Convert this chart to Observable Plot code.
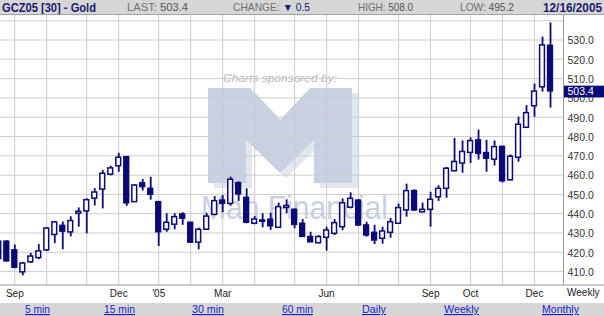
<!DOCTYPE html>
<html><head><meta charset="utf-8">
<script src="https://cdn.jsdelivr.net/npm/d3@7"></script>
<script src="https://cdn.jsdelivr.net/npm/@observablehq/plot@0.6"></script>
<style>
html,body{margin:0;padding:0;background:#fff;}
body{width:604px;height:316px;overflow:hidden;position:relative;font-family:"Liberation Sans",Arial,sans-serif;}
#header{position:absolute;left:0;top:0;width:604px;height:14px;background:#d6d6d6;border-bottom:1px solid #a4a4a4;}
#wm{position:absolute;left:0;top:0;z-index:0;}
#chart{position:absolute;left:0;top:15px;width:604px;height:287px;z-index:1;}
#footer{position:absolute;left:0;top:303px;width:604px;height:13px;background:#d6d6d6;}
#xextra{position:absolute;left:567px;top:287px;font-size:10px;color:#222;z-index:2;}
</style></head>
<body>
<svg id="header" width="604" height="14"></svg>
<svg id="wm" width="604" height="302"></svg>
<div id="chart"></div>
<div id="xextra">Weekly</div>
<svg id="footer" width="604" height="13"></svg>
<script>
// ---- data ----
const dates = ["2004-08-20","2004-08-27","2004-09-03","2004-09-10","2004-09-17","2004-09-24","2004-10-01","2004-10-08","2004-10-15","2004-10-22","2004-10-29","2004-11-05","2004-11-12","2004-11-19","2004-11-26","2004-12-03","2004-12-10","2004-12-17","2004-12-24","2004-12-31","2005-01-07","2005-01-14","2005-01-21","2005-01-28","2005-02-04","2005-02-11","2005-02-18","2005-02-25","2005-03-04","2005-03-11","2005-03-18","2005-03-25","2005-04-01","2005-04-08","2005-04-15","2005-04-22","2005-04-29","2005-05-06","2005-05-13","2005-05-20","2005-05-27","2005-06-03","2005-06-10","2005-06-17","2005-06-24","2005-07-01","2005-07-08","2005-07-15","2005-07-22","2005-07-29","2005-08-05","2005-08-12","2005-08-19","2005-08-26","2005-09-02","2005-09-09","2005-09-16","2005-09-23","2005-09-30","2005-10-07","2005-10-14","2005-10-21","2005-10-28","2005-11-04","2005-11-11","2005-11-18","2005-11-25","2005-12-02","2005-12-09","2005-12-16"];
const open  = [416.5,425.5,421,409.6,414.8,417,421,429,433.7,430.3,440,441.2,447.8,452.5,460.2,464.6,469.3,446,455.8,452.9,446,431.7,434.3,439.6,435.3,425,431.7,439.4,446.8,445.1,455.8,448.2,434.8,435.8,436.9,432.7,443,442,434.8,427.9,424.7,427.5,429.6,433,443.1,446.8,433.9,430.1,427,430.1,434.8,441.7,451.7,440.7,442,448.5,452.9,462,466,471.5,478,471.4,468,474.6,457.3,469,484.5,495.7,505.5,527];
const high  = [426.5,426,423.8,414.8,419.5,424,432.8,436,435.7,438.4,443,447.7,453,462.4,464.6,471.3,469.5,455,457.8,458.9,446.3,440,440,440.5,435.5,432.5,440.2,448.9,449.4,458.9,456.5,452.9,438.5,440,440.3,445.5,447.2,442.5,437,430.4,428.7,433,437,447.7,450.8,447.3,435.6,434,433,437.5,445,455.3,452.4,445.5,451.1,454.5,464,479,477.7,479.3,483.3,478,477.7,475,470.5,490,496,507.2,531.5,538.8];
const low   = [415,415,411.5,407.8,414.3,416.2,420.5,424.5,421.3,428,433,429.6,444,442.5,459.6,461.5,443.8,445.8,451.8,447,423,430.4,431.7,434,424.8,421.3,431.5,439,440.5,443.9,446.3,434.8,434.3,432.7,431.3,432.5,440,432.2,427.7,425,424.5,420.6,428.7,431.3,442.5,433.5,427.9,424,424.2,427.3,434.5,438.2,441.3,440.5,433,446.3,448,461.8,461,466,467.8,461.5,464.7,456,457,466.7,484.3,490,503,494.7];
const close = [425.5,415.3,412,414.2,417.8,420.5,432.3,435.5,430.7,436.2,441,447,451,460.7,463.5,469,445.4,454.6,453.8,449.8,430.4,435.3,438.2,437.4,425,431.7,438.5,446.5,445.1,457.6,450,435.3,437,436.5,433.5,443.4,444,434.2,428,425.2,427.9,431.3,435.1,445.4,447.7,433.9,428.7,426.1,430.8,435.6,442.9,451.7,441.7,442,447.2,452.9,463.3,466.8,472,477.6,471,468.5,474.5,456.8,469.5,486.1,492.1,503.3,527.2,503.4];
const gridDates = ["2004-09-03","2004-10-01","2004-11-05","2004-12-03","2005-01-07","2005-02-04","2005-03-04","2005-04-01","2005-05-06","2005-06-03","2005-07-01","2005-08-05","2005-09-02","2005-10-07","2005-11-04","2005-12-02"];
const tickDates = ["2004-09-03","2004-12-03","2005-01-07","2005-03-04","2005-06-03","2005-09-02","2005-10-07","2005-12-02"];
const tickLabels = ["Sep","Dec","'05","Mar","Jun","Sep","Oct","Dec"];
const yTicks = [410,420,430,440,450,460,470,480,490,500,510,520,530];
const yGrid = [410,420,430,440,450,460,470,480,490,500,510,520,530,540];
const lastPrice = 503.4;
const headerTitle = "GCZ05 [30] - Gold";
const headerDate = "12/16/2005";
const footerLinks = ["5 min","15 min","30 min","60 min","Daily","Weekly","Monthly"];

// ---- build ----
const navy = "#0a0a78";
const DAY = 864e5;
const data = dates.map((d,i)=>({date:new Date(d), open:open[i], high:high[i], low:low[i], close:close[i]}));
const half = 2.4*7/8*DAY;
const xDomain = [new Date(Date.UTC(2004,8,3) - 12.51*DAY), new Date(Date.UTC(2005,11,16) + 11.375*DAY)];
const yDomain = [402.8, 542.7];
const labelMap = new Map(tickDates.map((d,i)=>[+new Date(d), tickLabels[i]]));

const chart = Plot.plot({
  width:604, height:287, marginLeft:0, marginRight:41, marginTop:0, marginBottom:17,
  style:{background:"transparent", fontFamily:"'Liberation Sans',Arial,sans-serif", color:"#222", overflow:"visible"},
  x:{type:"utc", domain:xDomain, axis:null},
  y:{domain:yDomain, axis:null},
  marks:[
    Plot.gridX(gridDates.map(d=>new Date(d)), {stroke:"#cccccc", strokeOpacity:1}),
    Plot.gridY(yGrid, {stroke:"#cccccc", strokeOpacity:1}),
    Plot.ruleX([xDomain[1]], {stroke:"#9a9a9a"}),
    Plot.ruleX(data, {x:"date", y1:"low", y2:"high", stroke:navy, strokeWidth:1.8}),
    Plot.rect(data, {x1:d=>new Date(+d.date-half), x2:d=>new Date(+d.date+half), y1:"open", y2:"close",
      fill:d=>d.close>=d.open?"white":navy, stroke:navy, strokeWidth:1.5}),
    Plot.axisX(tickDates.map(d=>new Date(d)), {tickFormat:d=>labelMap.get(+d), tickSize:0, tickPadding:4, fontSize:10, fill:"#222"}),
    Plot.axisY(yTicks, {anchor:"right", tickSize:0, tickPadding:4, tickFormat:d=>d.toFixed(1), fontSize:10.5, fill:"#333", dy:1})
  ]
});
document.getElementById("chart").append(chart);

const ys = chart.scale("y");
const svg = d3.select(chart);
const yb = ys.apply(yDomain[0]);
svg.append("line").attr("x1",0).attr("x2",604).attr("y1",yb).attr("y2",yb).attr("stroke","#9a9a9a");
const yl = ys.apply(lastPrice);
svg.append("rect").attr("x",564).attr("y",yl-5.2).attr("width",40).attr("height",11.8).attr("fill",navy);
svg.append("text").attr("x",567.5).attr("y",yl+0.6).attr("dy","0.35em").attr("fill","#fff").attr("text-anchor","start")
  .attr("font-size",10.5).attr("font-family","'Liberation Sans',Arial,sans-serif").text(lastPrice.toFixed(1));

// header
const hd = d3.select("#header").attr("font-family","'Liberation Sans',Arial,sans-serif");
hd.append("text").attr("x",2).attr("y",11.5).attr("font-size",12).attr("font-weight","bold").attr("fill","#1b1b6e")
  .attr("textLength",94).attr("lengthAdjust","spacingAndGlyphs").text(headerTitle);
function hItem(x, label, value, len, arrow){
  const t = hd.append("text").attr("x",x).attr("y",11).attr("font-size",10.5).attr("fill","#707070")
    .attr("textLength",len).attr("lengthAdjust","spacingAndGlyphs");
  t.append("tspan").text(label+" ");
  if(arrow){ t.append("tspan").attr("fill","#1b1b6e").text(arrow+" "); t.append("tspan").attr("fill","#1b1b6e").text(value); }
  else t.append("tspan").attr("fill","#555").text(value);
}
hItem(127,"LAST:","503.4",61);
hItem(233,"CHANGE:","0.5",77,"\u25BC");
hItem(358,"HIGH:","508.0",55);
hItem(460,"LOW:","495.2",54);
hd.append("text").attr("x",543).attr("y",11.5).attr("font-size",12).attr("font-weight","bold").attr("fill","#1b1b6e")
  .attr("textLength",59).attr("lengthAdjust","spacingAndGlyphs").text(headerDate);

// watermark
const wm = d3.select("#wm").attr("font-family","'Liberation Sans',Arial,sans-serif");
wm.append("text").attr("x",223).attr("y",82).attr("font-size",11.5).attr("font-style","italic").attr("fill","#b4b9c6")
  .attr("textLength",114).attr("lengthAdjust","spacingAndGlyphs").text("Charts sponsored by:");
wm.append("path").attr("fill","#e2e6ee")
  .attr("d","M214,93 L256,93 L286,125 L316,93 L358,93 L358,188 L320,188 L320,145 L286,178 L252,145 L252,188 L214,188 Z");
wm.append("path").attr("fill","#c9d0e1")
  .attr("d","M208,88 L250,88 L280,120 L310,88 L352,88 L352,183 L314,183 L314,140 L280,173 L246,140 L246,183 L208,183 Z");
wm.append("text").attr("x",201).attr("y",219).attr("font-size",33).attr("fill","#c9d0e1")
  .attr("textLength",187).attr("lengthAdjust","spacingAndGlyphs").text("Man Financial");

// footer
const ft = d3.select("#footer").attr("font-family","'Liberation Sans',Arial,sans-serif");
const fx = [25,104,192,282,362,444,542];
const fw = [25,31,32,31,24,35,37];
footerLinks.forEach((s,i)=>{
  ft.append("text").attr("x",fx[i]).attr("y",10).attr("font-size",11).attr("fill","#1a1acc")
    .attr("text-decoration","underline").attr("textLength",fw[i]).attr("lengthAdjust","spacingAndGlyphs").text(s);
});
</script>
</body></html>
